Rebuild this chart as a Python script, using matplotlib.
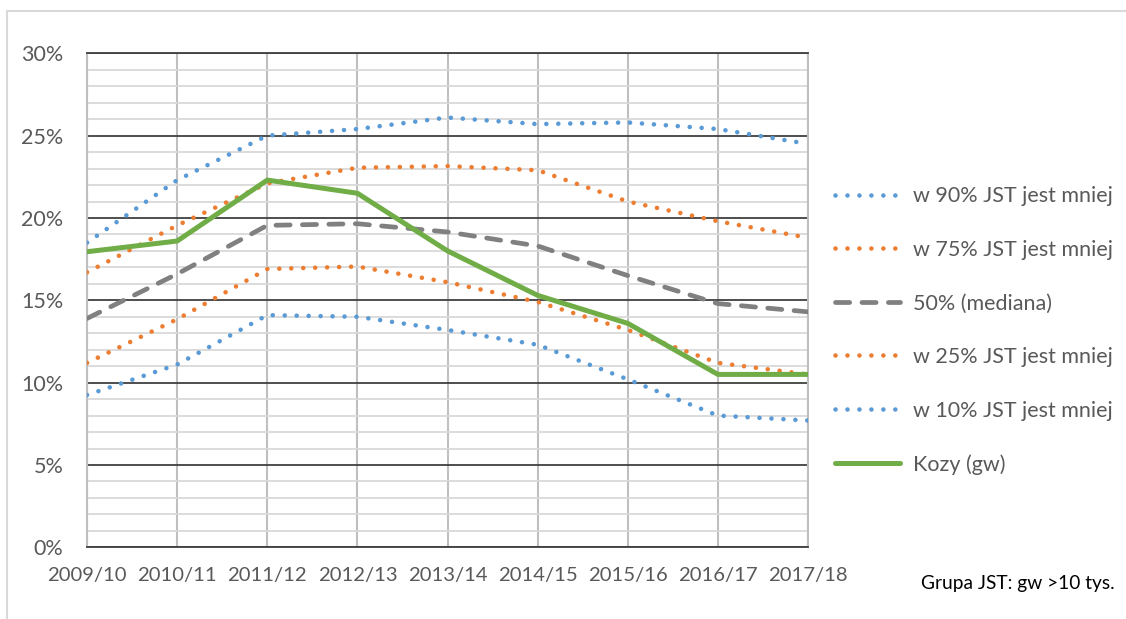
import matplotlib
matplotlib.use("Agg")
import matplotlib.pyplot as plt
from matplotlib.lines import Line2D
from matplotlib.ticker import MultipleLocator, FuncFormatter
import numpy as np

# data (percent)
seasons = ["2009/10", "2010/11", "2011/12", "2012/13", "2013/14",
           "2014/15", "2015/16", "2016/17", "2017/18"]
p90 = [18.5, 22.3, 25.0, 25.4, 26.1, 25.7, 25.8, 25.4, 24.5]
p75 = [16.7, 19.55, 22.1, 23.05, 23.15, 22.9, 21.0, 19.8, 18.8]
p50 = [13.9, 16.6, 19.55, 19.65, 19.15, 18.3, 16.5, 14.8, 14.3]
p25 = [11.2, 13.85, 16.9, 17.05, 16.1, 14.9, 13.2, 11.2, 10.5]
p10 = [9.25, 11.1, 14.1, 14.0, 13.2, 12.3, 10.2, 8.0, 7.7]
kozy = [17.95, 18.6, 22.3, 21.5, 18.0, 15.3, 13.6, 10.5, 10.5]

labels = ["w 90% JST jest mniej", "w 75% JST jest mniej", "50% (mediana)",
          "w 25% JST jest mniej", "w 10% JST jest mniej", "Kozy (gw)"]

BLUE = "#5B9BD5"
ORANGE = "#ED7D31"
GRAY = "#808080"
GREEN = "#70AD47"
TXT = "#595959"

plt.rcParams['font.family'] = ['Lato', 'DejaVu Sans']

fig = plt.figure(figsize=(11.26, 6.19), dpi=100)
ax = fig.add_axes([0.0773, 0.1158, 0.7176 - 0.0773, 0.9139 - 0.1158])

x = np.arange(len(seasons))
ax.set_xlim(0, len(seasons) - 1)
ax.set_ylim(0, 30)

# grid: minor every 1%, major every 5%, vertical at categories
ax.yaxis.set_major_locator(MultipleLocator(5))
ax.yaxis.set_minor_locator(MultipleLocator(1))
ax.set_xticks(x)
ax.set_xticklabels(seasons)
ax.yaxis.set_major_formatter(FuncFormatter(lambda v, p: "%d%%" % v))
ax.grid(which="minor", axis="y", color="#d9d9d9", lw=1.3, zorder=0)
ax.grid(which="major", axis="y", color="#404040", lw=1.3, zorder=1)
ax.grid(which="major", axis="x", color="#bfbfbf", lw=1.5, zorder=0)
ax.spines["top"].set_color("#404040")
ax.spines["top"].set_linewidth(1.3)
for s in ["left", "right"]:
    ax.spines[s].set_color("#bfbfbf")
    ax.spines[s].set_linewidth(1.5)
ax.spines["bottom"].set_color("#404040")
ax.spines["bottom"].set_linewidth(1.3)
ax.tick_params(axis="both", which="both", length=0, colors=TXT)
ax.tick_params(axis="y", labelsize=15.5, pad=17)
ax.tick_params(axis="x", labelsize=14.6, pad=14)

dotted = (0, (0.01, 2.6))
dashed = (0, (3.0, 2.6))
series = [(p90, BLUE, dotted, 3.3), (p75, ORANGE, dotted, 3.3),
          (p50, GRAY, dashed, 3.4), (p25, ORANGE, dotted, 3.3),
          (p10, BLUE, dotted, 3.3)]
handles = []
for vals, col, ls, lw in series:
    ln, = ax.plot(x, vals, color=col, lw=lw, linestyle=ls,
                  dash_capstyle="round", zorder=3)
    handles.append(ln)

ln, = ax.plot(x, kozy, color=GREEN, lw=3.6, zorder=4, solid_joinstyle="round",
              solid_capstyle="round")
handles.append(ln)

leg = fig.legend(handles, labels, loc="upper left", bbox_to_anchor=(0.734, 0.713),
                 frameon=False, fontsize=15.5, handlelength=3.0, handletextpad=0.6,
                 labelspacing=1.56, borderaxespad=0)
for t in leg.get_texts():
    t.set_color(TXT)

fig.text(0.99, 0.057, "Grupa JST: gw >10 tys.", ha="right", va="center",
         fontsize=13.8, color="black")

# light frame of the chart area
fig.add_artist(Line2D([0.0062, 0.0062], [0, 0.9822], color="#d9d9d9", lw=1.5,
                      transform=fig.transFigure))
fig.add_artist(Line2D([0.0062, 1.0], [0.9822, 0.9822], color="#d9d9d9", lw=1.5,
                      transform=fig.transFigure))

fig.savefig("out.png", dpi=100)
